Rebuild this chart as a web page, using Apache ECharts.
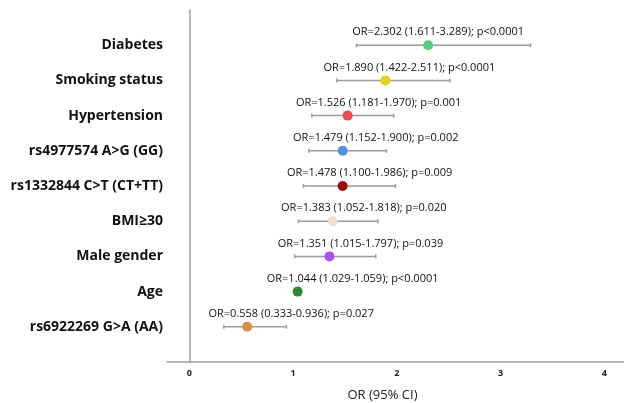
<!DOCTYPE html>
<html>
<head>
<meta charset="utf-8">
<script src="https://cdn.jsdelivr.net/npm/echarts@6/dist/echarts.min.js"></script>
<style>html,body{margin:0;padding:0;background:#fff}#c{width:624px;height:403px}</style>
</head>
<body>
<div id="c"></div>
<script>
// Data (top to bottom)
var factors = ['Diabetes', 'Smoking status', 'Hypertension', 'rs4977574 A>G (GG)', 'rs1332844 C>T (CT+TT)', 'BMI\u226530', 'Male gender', 'Age', 'rs6922269 G>A (AA)'];
var orValues = [2.302, 1.890, 1.526, 1.479, 1.478, 1.383, 1.351, 1.044, 0.558];
var ciLow = [1.611, 1.422, 1.181, 1.152, 1.100, 1.052, 1.015, 1.029, 0.333];
var ciHigh = [3.289, 2.511, 1.970, 1.900, 1.986, 1.818, 1.797, 1.059, 0.936];
var pValues = ['p<0.0001', 'p<0.0001', 'p=0.001', 'p=0.002', 'p=0.009', 'p=0.020', 'p=0.039', 'p<0.0001', 'p=0.027'];
var xTicks = [0, 1, 2, 3, 4];

// Styles
var pointColors = ['#5ccb80', '#e2d31c', '#ea4b4e', '#4c92e6', '#9c0a0a', '#ece2cb', '#aa55f2', '#2f8a2f', '#d98f3c'];
var labelDx = [10, 24, 31, 33, 27, 31, 31, 55, 44];

var n = factors.length;
var cats = [''].concat(factors.slice().reverse()).concat(['']);
var seriesData = [];
for (var i = 0; i < n; i++) {
  seriesData.push({
    value: [ciLow[i], ciHigh[i], orValues[i], factors[i]],
    idx: i
  });
}
function fmt(v) { return v.toFixed(3); }

var chart = echarts.init(document.getElementById('c'));
chart.setOption({
  animation: false,
  grid: { left: 167, right: 0, top: 10, bottom: 41, containLabel: false, outerBoundsMode: 'none' },
  xAxis: {
    type: 'value', min: -0.215, max: 4.19,
    name: 'OR (95% CI)', nameLocation: 'middle', nameGap: 27,
    nameTextStyle: { fontFamily: 'Open Sans', fontSize: 13, color: '#222', padding: [0, 26, 0, 0] },
    axisLine: { show: true, lineStyle: { color: '#a0a0a0', width: 1.5 } },
    axisTick: { show: false },
    splitLine: { show: false },
    axisLabel: { customValues: xTicks, fontFamily: 'Open Sans', fontWeight: 'bold', fontSize: 9, color: '#222', margin: 7 }
  },
  yAxis: {
    type: 'category', data: cats, boundaryGap: false,
    axisLine: { show: true, lineStyle: { color: '#a0a0a0', width: 1.5 } },
    axisTick: { show: false },
    splitLine: { show: false },
    axisLabel: { fontFamily: 'Open Sans', fontWeight: 'bold', fontSize: 14, color: '#111', margin: 4 }
  },
  series: [{
    type: 'custom',
    data: seriesData,
    encode: { x: [0, 1, 2], y: 3 },
    renderItem: function (params, api) {
      var i = params.dataIndex;
      var lo = api.coord([api.value(0), api.value(3)]);
      var hi = api.coord([api.value(1), api.value(3)]);
      var pt = api.coord([api.value(2), api.value(3)]);
      var y = pt[1];
      var lineStyle = { stroke: '#9c9c9c', lineWidth: 1.5 };
      var txt = 'OR=' + fmt(orValues[i]) + ' (' + fmt(ciLow[i]) + '-' + fmt(ciHigh[i]) + '); ' + pValues[i];
      return {
        type: 'group',
        children: [
          { type: 'line', shape: { x1: lo[0], y1: y, x2: hi[0], y2: y }, style: lineStyle },
          { type: 'line', shape: { x1: lo[0], y1: y - 2, x2: lo[0], y2: y + 2 }, style: lineStyle },
          { type: 'line', shape: { x1: hi[0], y1: y - 2, x2: hi[0], y2: y + 2 }, style: lineStyle },
          { type: 'circle', shape: { cx: pt[0], cy: y, r: 5 }, style: { fill: pointColors[i] } },
          { type: 'text', x: pt[0] + labelDx[i], y: y - 13,
            style: { text: txt, align: 'center', verticalAlign: 'middle', fontFamily: 'Open Sans', fontSize: 11, fill: '#111' } }
        ]
      };
    }
  }]
});
</script>
</body>
</html>
